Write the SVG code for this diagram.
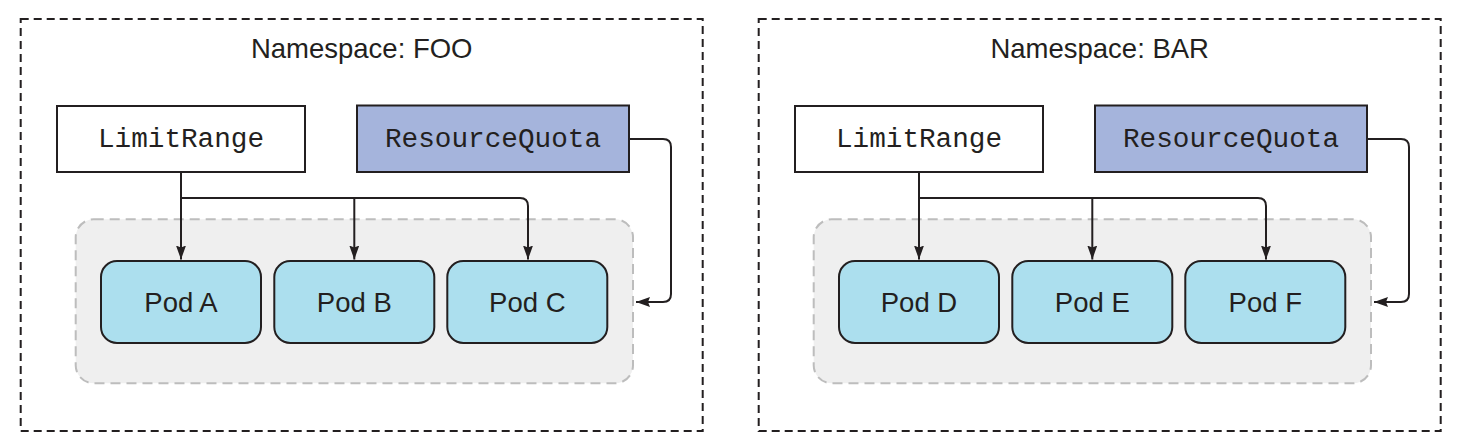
<svg xmlns="http://www.w3.org/2000/svg" width="1458" height="447" viewBox="0 0 1458 447">
<defs>
<style>
.ns{fill:#fff;stroke:#231f20;stroke-width:2;stroke-dasharray:8 5}
.grp{fill:#efefef;stroke:#bdbdbd;stroke-width:2;stroke-dasharray:10 6}
.lr{fill:#fff;stroke:#231f20;stroke-width:2}
.rq{fill:#a5b4dc;stroke:#231f20;stroke-width:2}
.pod{fill:#acdfee;stroke:#231f20;stroke-width:2}
.title{font-family:"Liberation Sans",Arial,sans-serif;font-size:27.5px;fill:#231f20;text-anchor:middle}
.mono{font-family:"Liberation Mono","Courier New",monospace;font-size:27.7px;fill:#231f20;text-anchor:middle}
.podt{font-family:"Liberation Sans",Arial,sans-serif;font-size:27.5px;fill:#231f20;text-anchor:middle}
.conn{fill:none;stroke:#231f20;stroke-width:2}
</style>
<marker id="arr" viewBox="0 0 14 10" refX="14" refY="5" markerWidth="14" markerHeight="10" markerUnits="userSpaceOnUse" orient="auto">
<path d="M0,0 L14,5 L0,10 L2,5 Z" fill="#231f20"/>
</marker>
</defs>
<rect width="1458" height="447" fill="#fff"/>

<g id="ns-foo">
<rect class="ns" x="20.7" y="19" width="682" height="412"/>
<text class="title" x="361.7" y="57.5">Namespace: FOO</text>
<rect class="grp" x="75.7" y="219.3" width="557.3" height="164" rx="18"/>
</g>
<g id="ns-bar">
<rect class="ns" x="758.7" y="19" width="682" height="412"/>
<text class="title" x="1099.7" y="57.5">Namespace: BAR</text>
<rect class="grp" x="813.7" y="219.3" width="557.3" height="164" rx="18"/>
</g>

<g id="limitrange-foo">
<rect class="lr" x="57" y="106" width="248" height="66"/>
<text class="mono" x="181" y="146.7">LimitRange</text>
</g>
<g id="resourcequota-foo">
<rect class="rq" x="357" y="105.5" width="272" height="66.5"/>
<text class="mono" x="493" y="146.7">ResourceQuota</text>
</g>
<g id="pod-a"><rect class="pod" x="101" y="261" width="160" height="82" rx="16"/><text class="podt" x="181" y="311.7">Pod A</text></g>
<g id="pod-b"><rect class="pod" x="274.3" y="261" width="160" height="82" rx="16"/><text class="podt" x="354.3" y="311.7">Pod B</text></g>
<g id="pod-c"><rect class="pod" x="447.3" y="261" width="160" height="82" rx="16"/><text class="podt" x="527.3" y="311.7">Pod C</text></g>

<g id="limitrange-bar">
<rect class="lr" x="795" y="106" width="248" height="66"/>
<text class="mono" x="919" y="146.7">LimitRange</text>
</g>
<g id="resourcequota-bar">
<rect class="rq" x="1095" y="105.5" width="272" height="66.5"/>
<text class="mono" x="1231" y="146.7">ResourceQuota</text>
</g>
<g id="pod-d"><rect class="pod" x="839" y="261" width="160" height="82" rx="16"/><text class="podt" x="919" y="311.7">Pod D</text></g>
<g id="pod-e"><rect class="pod" x="1012.3" y="261" width="160" height="82" rx="16"/><text class="podt" x="1092.3" y="311.7">Pod E</text></g>
<g id="pod-f"><rect class="pod" x="1185.3" y="261" width="160" height="82" rx="16"/><text class="podt" x="1265.3" y="311.7">Pod F</text></g>

<g id="connectors">
<path class="conn" d="M181,172 V259.5" marker-end="url(#arr)"/>
<path class="conn" d="M181,198 H520 Q528,198 528,206 V259.5" marker-end="url(#arr)"/>
<path class="conn" d="M354.3,198 V259.5" marker-end="url(#arr)"/>
<path class="conn" d="M629,139 H663 Q671,139 671,147 V294 Q671,302 663,302 H636" marker-end="url(#arr)"/>

<path class="conn" d="M919,172 V259.5" marker-end="url(#arr)"/>
<path class="conn" d="M919,198 H1258 Q1266,198 1266,206 V259.5" marker-end="url(#arr)"/>
<path class="conn" d="M1092.3,198 V259.5" marker-end="url(#arr)"/>
<path class="conn" d="M1367,139 H1401 Q1409,139 1409,147 V294 Q1409,302 1401,302 H1374" marker-end="url(#arr)"/>
</g>
</svg>
